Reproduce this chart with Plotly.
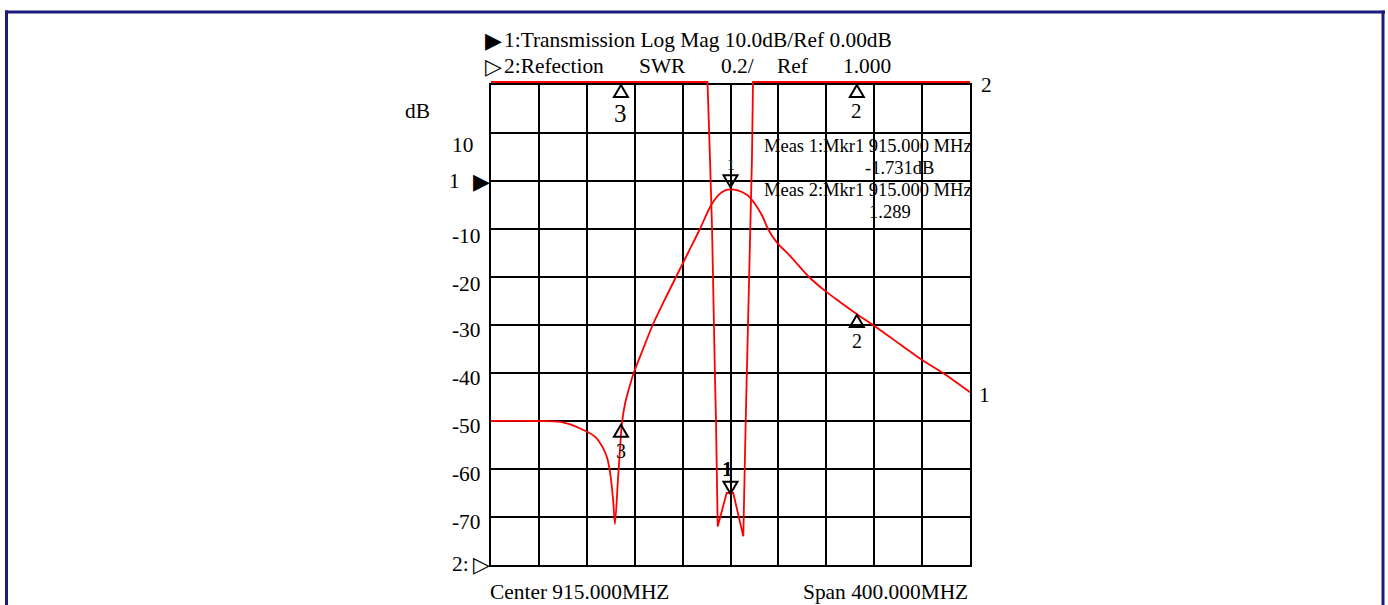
import plotly.graph_objects as go

# ---------------- data ----------------
# Trace 1: Transmission, Log Mag (dB) vs frequency (MHz)
freq_tr = [715, 755, 773, 789, 802, 808.5, 812, 814.5, 817, 818.5,
           821, 822.7, 824.4, 827, 829.4, 833.6, 842, 850, 859.5, 869.5,
           879.5, 889.5, 898, 906, 911, 915, 920.4, 929, 935.5, 942,
           946.3, 954, 964.7, 980.6, 994, 1006.4, 1021.5, 1034, 1056.5, 1075,
           1092.5, 1115]
db_tr = [-50.0, -50.0, -50.2, -51.5, -53.3, -55.6, -57.7, -60.8, -66.5, -71.5,
         -62.3, -56.0, -50.4, -46.3, -44.0, -40.4, -35.0, -30.0, -25.0, -20.0,
         -15.0, -10.0, -5.4, -2.7, -1.9, -1.73, -1.9, -2.9, -4.8, -7.5,
         -10.0, -12.9, -15.6, -20.0, -22.9, -25.2, -27.9, -30.0, -34.0, -37.3,
         -40.0, -44.0]

# Trace 2: Reflection, SWR (as displayed, clipped just above the top of scale)
freq_swr = [715, 895.8, 897.9, 899.6, 902.1, 902.9, 904.3, 911.8, 917.3, 925.7,
            927.7, 928.5, 931.3, 932.9, 933.8, 1115]
swr = [3.0125, 3.0125, 2.69, 2.40, 1.77, 1.60, 1.16, 1.30, 1.30, 1.12,
       1.60, 1.77, 2.40, 2.69, 3.0125, 3.0125]

# Markers
mkr_names = ["1", "2", "3"]
mkr_freq = [915, 1020.5, 823.5]
mkr_tr_db = [-1.731, -27.9, -50.8]
mkr1_swr = 1.289
swr_top = 3.0

# Axis scale
f_start, f_stop, f_div = 715, 1115, 40
db_bottom, db_top, db_div = -80, 20, 10
swr_ref, swr_div = 1.0, 0.2

# y labels (left side)
ylab_text = ["10", "-10", "-20", "-30", "-40", "-50", "-60", "-70"]
ylab_db = [7.5, -11.5, -21.5, -31, -41, -51, -61, -71]

# ---------------- layout helpers ----------------
W, H = 1388, 605
PL, PR, PT, PB = 491, 970, 80, 565      # plot area in px
GRID_TOP = 85


def px(x):
    return (x - PL) / (PR - PL)


def py(y):
    return (PB - y) / (PB - PT)


FONT = "Liberation Serif, Times New Roman, serif"
SYM = "DejaVu Sans"
FS = 21.4

fig = go.Figure()

fig.add_trace(go.Scatter(x=freq_tr, y=db_tr, mode="lines",
                         line=dict(color="#ff0000", width=1.8, shape="spline", smoothing=0.75),
                         xaxis="x", yaxis="y", hoverinfo="skip"))
fig.add_trace(go.Scatter(x=freq_swr, y=swr, mode="lines",
                         line=dict(color="#ff0000", width=1.8),
                         xaxis="x2", yaxis="y2", hoverinfo="skip"))

ann = []


def text(t, x, y, size=FS, anchor="left", font=FONT, **kw):
    ann.append(dict(text=t, x=px(x), y=py(y), xref="paper", yref="paper",
                    xanchor=anchor, yanchor="middle", showarrow=False,
                    font=dict(family=font, size=size, color="black"), **kw))


# header
text("▶", 483, 40, size=22, font=SYM)
text("1:Transmission Log Mag 10.0dB/Ref 0.00dB", 502, 40)
text("▷", 483, 66, size=22, font=SYM)
text("2:Refection", 502, 66)
text("SWR", 637, 66)
text("0.2/", 719, 66)
text("Ref", 775, 66)
text("1.000", 841, 66)
text("dB", 403, 111)

# measurement block
MS = 18.5
text("Meas 1:Mkr1 915.000 MHz", 762, 146, size=MS)
text("-1.731dB", 863, 168, size=MS)
text("Meas 2:Mkr1 915.000 MHz", 762, 190, size=MS)
text("1.289", 867, 212, size=MS)

# bottom
text("Center 915.000MHZ", 488, 592)
text("Span 400.000MHZ", 801, 592)

# y labels
for t, v in zip(ylab_text, ylab_db):
    ann.append(dict(text=t, x=px(450), y=v, xref="paper", yref="y",
                    xanchor="left", yanchor="middle", showarrow=False,
                    font=dict(family=FONT, size=FS, color="black")))
ann.append(dict(text="1", x=px(447), y=0, xref="paper", yref="y",
                xanchor="left", showarrow=False,
                font=dict(family=FONT, size=FS, color="black")))
ann.append(dict(text="▶", x=px(471), y=0, xref="paper", yref="y",
                xanchor="left", showarrow=False,
                font=dict(family=SYM, size=22, color="black")))
ann.append(dict(text="2:", x=px(450), y=swr_ref, xref="paper", yref="y2",
                xanchor="left", showarrow=False, yshift=1,
                font=dict(family=FONT, size=FS, color="black")))
ann.append(dict(text="▷", x=px(471), y=swr_ref, xref="paper", yref="y2",
                xanchor="left", showarrow=False, yshift=1,
                font=dict(family=SYM, size=22, color="black")))

# trace end labels
ann.append(dict(text="1", x=freq_tr[-1], y=db_tr[-1], xref="x", yref="y",
                xanchor="left", showarrow=False, xshift=7, yshift=-3,
                font=dict(family=FONT, size=FS, color="black")))
ann.append(dict(text="2", x=freq_swr[-1], y=swr_top, xref="x2", yref="y2",
                xanchor="left", showarrow=False, xshift=9,
                font=dict(family=FONT, size=FS, color="black")))

shapes = []
TRI_DOWN = "M0,2 L-7,14 L7,14 Z"
TRI_UP = "M0,0 L-7,-12 L7,-12 Z"


def tri(path, xr, yr, x, y):
    shapes.append(dict(type="path", path=path, xref=xr, yref=yr,
                       xsizemode="pixel", ysizemode="pixel",
                       xanchor=x, yanchor=y,
                       line=dict(color="black", width=2),
                       fillcolor="rgba(0,0,0,0)", layer="above"))


# trace 1 markers
for i, (n, f, v) in enumerate(zip(mkr_names, mkr_freq, mkr_tr_db)):
    if i == 0:
        tri(TRI_DOWN, "x", "y", f, v)
        ann.append(dict(text=n, x=f, y=v, xref="x", yref="y", showarrow=False,
                        yshift=25, font=dict(family=FONT, size=16, color="#222")))
    else:
        tri(TRI_UP, "x", "y", f, v)
        ann.append(dict(text=n, x=f, y=v, xref="x", yref="y", showarrow=False,
                        yshift=-26, font=dict(family=FONT, size=20, color="black")))

# trace 2 markers
tri(TRI_DOWN, "x2", "y2", mkr_freq[0], mkr1_swr)
ann.append(dict(text="<b>1</b>", x=mkr_freq[0], y=mkr1_swr, xref="x2", yref="y2",
                showarrow=False, yshift=27, xshift=-3,
                font=dict(family=FONT, size=21, color="black")))
for n, f, s in zip(mkr_names[1:], mkr_freq[1:], [21, 25]):
    tri(TRI_UP, "x2", "y2", f, swr_top)
    ann.append(dict(text=n, x=f, y=swr_top, xref="x2", yref="y2", showarrow=False,
                    yshift=-26 if n == "2" else -28,
                    font=dict(family=FONT, size=s, color="black")))

# outer navy frame
NAVY = "#1b1b7d"
shapes.append(dict(type="line", xref="paper", yref="paper",
                   x0=px(5), x1=px(1385), y0=py(12), y1=py(12),
                   line=dict(color=NAVY, width=3)))
shapes.append(dict(type="line", xref="paper", yref="paper",
                   x0=px(6.5), x1=px(6.5), y0=py(10.5), y1=py(620),
                   line=dict(color=NAVY, width=3)))
shapes.append(dict(type="line", xref="paper", yref="paper",
                   x0=px(1383), x1=px(1383), y0=py(10.5), y1=py(620),
                   line=dict(color=NAVY, width=3)))

main_dom_top = (PB - GRID_TOP) / (PB - PT)

fig.update_layout(
    width=W, height=H,
    margin=dict(l=PL, r=W - PR, t=PT, b=H - PB, pad=0),
    paper_bgcolor="white", plot_bgcolor="rgba(0,0,0,0)",
    showlegend=False,
    xaxis=dict(range=[f_start, f_stop], dtick=f_div, tick0=f_start,
               domain=[0, 1], anchor="y",
               showgrid=True, gridcolor="black", gridwidth=2,
               showline=True, linecolor="black", linewidth=2, mirror=True,
               zeroline=False, showticklabels=False, ticks=""),
    yaxis=dict(range=[db_bottom, db_top], dtick=db_div, tick0=db_bottom,
               domain=[0, main_dom_top], anchor="x",
               showgrid=True, gridcolor="black", gridwidth=2,
               showline=True, linecolor="black", linewidth=2, mirror=True,
               zeroline=False, showticklabels=False, ticks=""),
    xaxis2=dict(range=[f_start, f_stop], domain=[0, 1], anchor="y2",
                visible=False),
    yaxis2=dict(range=[swr_ref, swr_ref + (PB - PT) / 48 * swr_div],
                domain=[0, 1], anchor="x2", visible=False),
    annotations=ann,
    shapes=shapes,
)

fig.write_html(
    "out.html",
    config={"displayModeBar": False, "staticPlot": True},
    post_script="document.body.style.margin='0';"
                "document.body.style.overflow='hidden';",
)
